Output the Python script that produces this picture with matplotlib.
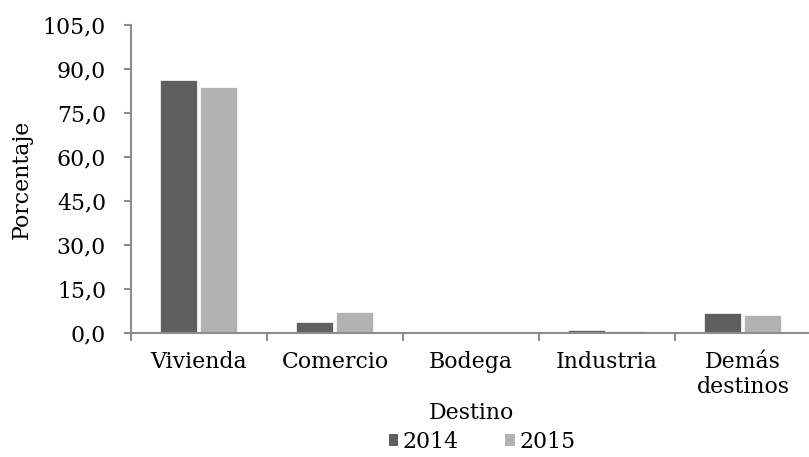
import matplotlib
matplotlib.use("Agg")
import matplotlib.pyplot as plt
import numpy as np
from matplotlib import patheffects as pe
from matplotlib.ticker import FuncFormatter, FixedLocator

categories = ["Vivienda", "Comercio", "Bodega", "Industria", "Demás\ndestinos"]
years = ["2014", "2015"]
values_2014 = [86.2, 3.8, 0.2, 0.9, 6.9]
values_2015 = [84.0, 7.3, 0.2, 0.6, 6.1]
yticks = [0, 15, 30, 45, 60, 75, 90, 105]

colors = ["#5f5f5f", "#b2b2b2"]
plt.rcParams["font.family"] = ["DejaVu Serif"]
FS = 15.8

fig = plt.figure(figsize=(8.09, 4.57), dpi=100)
ax = fig.add_axes([131/809, 1-333/457, 680/809, 308/457])

x = np.arange(len(categories))
bw = 0.28
shadow = [pe.SimplePatchShadow(offset=(1, -1), shadow_rgbFace="#000000", alpha=0.07), pe.Normal()]
b1 = ax.bar(x - bw/2 - 0.005, values_2014, bw, color=colors[0], edgecolor="white", linewidth=1.2,
            label=years[0], path_effects=shadow, zorder=3)
b2 = ax.bar(x + bw/2 + 0.005, values_2015, bw, color=colors[1], edgecolor="white", linewidth=1.2,
            label=years[1], path_effects=shadow, zorder=3)

ax.set_xlim(-0.5, len(categories) - 0.5)
ax.set_ylim(0, 105)
ax.set_yticks(yticks)
ax.yaxis.set_major_formatter(FuncFormatter(lambda v, p: f"{v:.1f}".replace(".", ",")))
ax.set_xticks(x)
ax.set_xticklabels(categories, fontsize=FS, linespacing=1.15)
ax.xaxis.set_minor_locator(FixedLocator(np.arange(-0.5, len(categories), 1.0)))
ax.tick_params(axis="x", which="major", length=0, pad=13)
ax.tick_params(axis="x", which="minor", length=6, width=1.5, color="#8c8c8c", direction="out")
ax.tick_params(axis="y", length=5, width=1.5, color="#8c8c8c", direction="out", labelsize=FS, pad=13)

for s in ["top", "right"]:
    ax.spines[s].set_visible(False)
for s in ["left", "bottom"]:
    ax.spines[s].set_color("#8c8c8c")
    ax.spines[s].set_linewidth(1.5)
    ax.spines[s].set_zorder(5)

ax.set_ylabel("Porcentaje", fontsize=FS, labelpad=7)
ax.set_xlabel("Destino", fontsize=FS, labelpad=3)

leg = fig.legend(handles=[b1, b2], labels=years, loc="center", bbox_to_anchor=(482/809, 1-442/457),
                 ncol=2, frameon=False, fontsize=FS, handlelength=0.45, handleheight=0.45,
                 handletextpad=0.2, columnspacing=2.1)
for h in leg.legend_handles:
    h.set_path_effects([])
    h.set_edgecolor("none")

fig.savefig("out.png", dpi=100)
